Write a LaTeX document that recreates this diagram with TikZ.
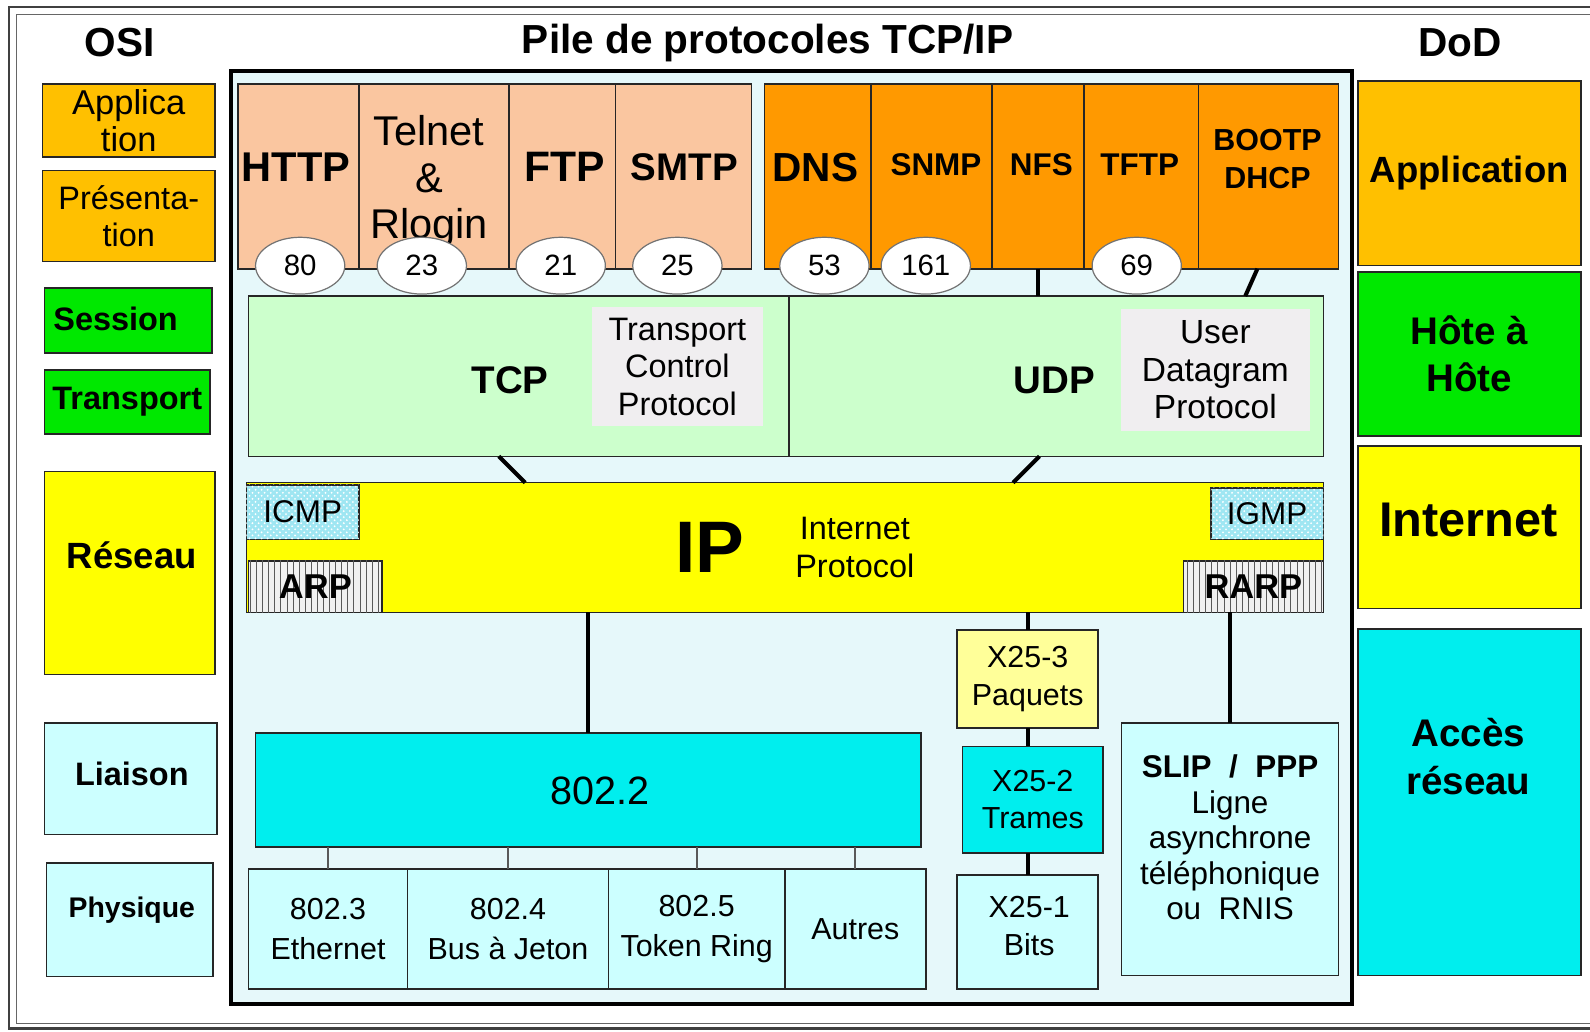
\documentclass[tikz,border=0pt]{standalone}
\usepackage{fontspec}
\setmainfont{Liberation Sans}
\usetikzlibrary{shapes.geometric,patterns}
\definecolor{appor}{HTML}{FFC000}
\definecolor{peach}{HTML}{FAC6A0}
\definecolor{orng}{HTML}{FF9900}
\definecolor{grn}{HTML}{00E800}
\definecolor{yel}{HTML}{FFFF00}
\definecolor{lcyan}{HTML}{CCFFFF}
\definecolor{cyn}{HTML}{00EEEE}
\definecolor{lgrn}{HTML}{CCFFCC}
\definecolor{lgray}{HTML}{F0EEF0}
\definecolor{lyel}{HTML}{FFFF99}
\definecolor{bgc}{HTML}{E6F8FA}
\definecolor{icmpc}{HTML}{9FE6F2}
\newcommand\fs[2]{\fontsize{#1pt}{#2pt}\selectfont}
\newcommand\bx[7][]{\node[box,#1,minimum width={(#5-#3)*0.5pt},minimum height={(#6-#4)*0.5pt}] (#2) at (#3,#4) {#7};}
\begin{document}
\begin{tikzpicture}[x=0.5pt,y=-0.5pt,
  box/.style={draw=black!85,line width=0.8pt,inner sep=0pt,outer sep=0pt,anchor=north west,align=center},
  txt/.style={inner sep=0pt,align=center},
  port/.style={ellipse,draw=black!55,line width=0.6pt,fill=white,minimum width=44pt,minimum height=28pt,inner sep=0pt,font=\fs{14.5}{16}},
  conn/.style={line width=2pt,black},
  subconn/.style={line width=1.1pt,black!65},
  hatchc/.style={fill=icmpc,postaction={pattern=crosshatch dots,pattern color=white}},
  hatchv/.style={fill=gray!12,postaction={pattern=vertical lines,pattern color=black!65}},
]
\useasboundingbox (0,0) rectangle (1568,1017);
\fill[white] (0,0) rectangle (1568,1017);
% outer border
\draw[line width=1.3pt,black!75] (1568,7) -- (9,7) -- (9,1014) -- (1568,1014);
\draw[line width=0.5pt,black!60] (1568,14) -- (16,14) -- (16,1009) -- (1568,1009);
% titles
\node[txt,font=\fs{20}{22}\bfseries] (osi) at (118,42) {OSI};
\node[txt,font=\fs{20}{22}\bfseries] (pile) at (757,42) {Pile de protocoles TCP/IP};
\node[txt,font=\fs{20}{22}\bfseries] (dod) at (1440,42) {DoD};
% main frame
\bx[line width=2pt,draw=black,fill=bgc]{stack}{228}{70}{1333}{990}{}
% OSI column
\bx[fill=appor,font=\fs{17}{18}]{osiapp}{42}{83}{212}{155}{Applica\\tion}
\bx[fill=appor,font=\fs{16}{18.5}]{osipres}{42}{168}{212}{258}{Présenta-\\tion}
\bx[fill=grn]{osisess}{44}{284}{209}{348}{}
\node[txt,font=\fs{16}{18}\bfseries] (osisesst) at (114,314) {Session};
\bx[fill=grn,font=\fs{16}{18}\bfseries]{ositrans}{44}{365}{207}{428}{Transport}
\bx[fill=yel]{osires}{44}{465}{212}{665}{}
\node[txt,font=\fs{18}{20}\bfseries] (osirest) at (130,548) {Réseau};
\bx[fill=lcyan]{osiliai}{44}{713}{214}{823}{}
\node[txt,font=\fs{16}{18}\bfseries] (osiliait) at (130,763) {Liaison};
\bx[fill=lcyan]{osiphys}{46}{851}{210}{963}{}
\node[txt,font=\fs{14}{16}\bfseries] (osiphyst) at (130,898) {Physique};
% DoD column
\bx[fill=appor,font=\fs{18}{20}\bfseries]{dodapp}{1339}{80}{1559}{262}{Application}
\bx[fill=grn,font=\fs{19}{23.5}\bfseries]{dodhote}{1339}{268}{1559}{430}{Hôte à\\Hôte}
\bx[fill=yel]{dodinet}{1339}{440}{1559}{600}{}
\node[txt,font=\fs{24}{26}\bfseries] (dodinett) at (1448,513) {Internet};
\bx[fill=cyn]{dodacc}{1339}{620}{1559}{962}{}
\node[txt,font=\fs{19}{24}\bfseries] (dodacct) at (1448,746) {Accès\\réseau};
% application protocols
\bx[fill=peach]{http}{235}{83}{354}{265}{}
\bx[fill=peach]{telnet}{354}{83}{502}{265}{}
\bx[fill=peach]{ftp}{502}{83}{607}{265}{}
\bx[fill=peach]{smtp}{607}{83}{741}{265}{}
\bx[fill=orng]{dns}{754}{83}{859}{265}{}
\bx[fill=orng]{snmp}{859}{83}{978}{265}{}
\bx[fill=orng]{nfs}{978}{83}{1069}{265}{}
\bx[fill=orng]{tftp}{1069}{83}{1182}{265}{}
\bx[fill=orng]{bootp}{1182}{83}{1320}{265}{}
\node[txt,font=\fs{20.5}{23}\bfseries] (httpt) at (292,165) {HTTP};
\node[txt,font=\fs{20.5}{23}] (telnett) at (423,179) {Telnet\\\&\\Rlogin};
\node[txt,font=\fs{21}{23}\bfseries] (ftpt) at (557,165) {FTP};
\node[txt,font=\fs{19}{21}\bfseries] (smtpt) at (675,165) {SMTP};
\node[txt,font=\fs{20}{22}\bfseries] (dnst) at (804,165) {DNS};
\node[txt,font=\fs{15.5}{18}\bfseries] (snmpt) at (923,162) {SNMP};
\node[txt,font=\fs{15.5}{18}\bfseries] (nfst) at (1027,162) {NFS};
\node[txt,font=\fs{15.5}{18}\bfseries] (tftpt) at (1124,162) {TFTP};
\node[txt,font=\fs{15}{18.5}\bfseries] (bootpt) at (1250,157) {BOOTP\\DHCP};
% transport
\bx[fill=lgrn]{tcp}{245}{292}{778}{450}{}
\bx[fill=lgrn]{udp}{778}{292}{1305}{450}{}
\node[txt,font=\fs{19}{21}\bfseries] (tcpt) at (503,375) {TCP};
\bx[draw=none,fill=lgray,font=\fs{16}{18.5}]{tcpname}{584}{303}{752}{420}{Transport\\Control\\Protocol}
\node[txt,font=\fs{19}{21}\bfseries] (udpt) at (1040,375) {UDP};
\bx[draw=none,fill=lgray,font=\fs{16.5}{18.5}]{udpname}{1105}{305}{1292}{425}{User\\Datagram\\Protocol}
% IP
\bx[fill=yel]{ip}{243}{476}{1305}{604}{}
\bx[hatchc,font=\fs{15.5}{17}]{icmp}{243}{478}{354}{532}{ICMP}
\bx[hatchv,font=\fs{17}{19}\bfseries]{arp}{245}{553}{377}{604}{ARP}
\bx[hatchc,font=\fs{15.5}{17}]{igmp}{1194}{481}{1305}{532}{IGMP}
\bx[hatchv,font=\fs{17}{19}\bfseries]{rarp}{1167}{553}{1305}{604}{RARP}
\node[txt,font=\fs{36}{40}\bfseries] (ipt) at (700,540) {IP};
\node[txt,font=\fs{16}{18.5}] (ipname) at (843,540) {Internet\\Protocol};
% network access
\bx[fill=cyn]{ll}{252}{723}{908}{835}{}
\node[txt,font=\fs{19.5}{22}] (llt) at (592,780) {802.2};
\bx[fill=lcyan,font=\fs{15}{20}]{e3}{245}{857}{402}{975}{802.3\\Ethernet}
\bx[fill=lcyan,font=\fs{15}{20}]{e4}{402}{857}{600}{975}{802.4\\Bus à Jeton}
\bx[fill=lcyan,font=\fs{15}{20}]{e5}{600}{857}{774}{975}{802.5\\Token Ring}
\bx[fill=lcyan,font=\fs{15}{20}]{eo}{774}{857}{913}{975}{Autres}
\bx[fill=lyel,font=\fs{15}{18.5}]{x3}{944}{621}{1083}{718}{X25-3\\Paquets}
\bx[fill=cyn,font=\fs{15}{18.5}]{x2}{949}{736}{1088}{841}{X25-2\\Trames}
\bx[fill=lcyan]{x1}{944}{863}{1083}{975}{}
\node[txt,font=\fs{15}{18.5}] (x1t) at (1015,913) {X25-1\\Bits};
\bx[fill=lcyan]{slip}{1106}{713}{1320}{962}{}
\node[txt,font=\fs{15.5}{17.5}] (slipt) at (1213,826) {{\bfseries SLIP\ \ /\ \ PPP}\\Ligne\\asynchrone\\téléphonique\\ou\ \ RNIS};
% connectors
\draw[conn] (nfs.south) -- (nfs.south |- udp.north);
\draw[conn] ([xshift=-5.5pt]bootp.south) -- ([xshift=-38.5pt]udp.north east);
\draw[conn] ([xshift=123.5pt]tcp.south west) -- ([xshift=137.5pt]ip.north west);
\draw[conn] ([xshift=123.5pt]udp.south west) -- ([xshift=378pt]ip.north west);
\draw[conn] (ip.south -| ll.north) -- (ll.north);
\draw[conn] (ip.south -| x3.north) -- (x3.north);
\draw[conn] (x3.south) -- (x3.south |- x2.north);
\draw[conn] (x1.north |- x2.south) -- (x1.north);
\draw[conn] (ip.south -| slip.north) -- (slip.north);
\foreach \n in {e3,e4,e5,eo} \draw[subconn] (\n.north |- ll.south) -- (\n.north);
% ports
\node[port] (p80) at (296,262) {80};
\node[port] (p23) at (416,262) {23};
\node[port] (p21) at (553,262) {21};
\node[port] (p25) at (668,262) {25};
\node[port] (p53) at (813,262) {53};
\node[port] (p161) at (913,262) {161};
\node[port] (p69) at (1121,262) {69};
\end{tikzpicture}
\end{document}
